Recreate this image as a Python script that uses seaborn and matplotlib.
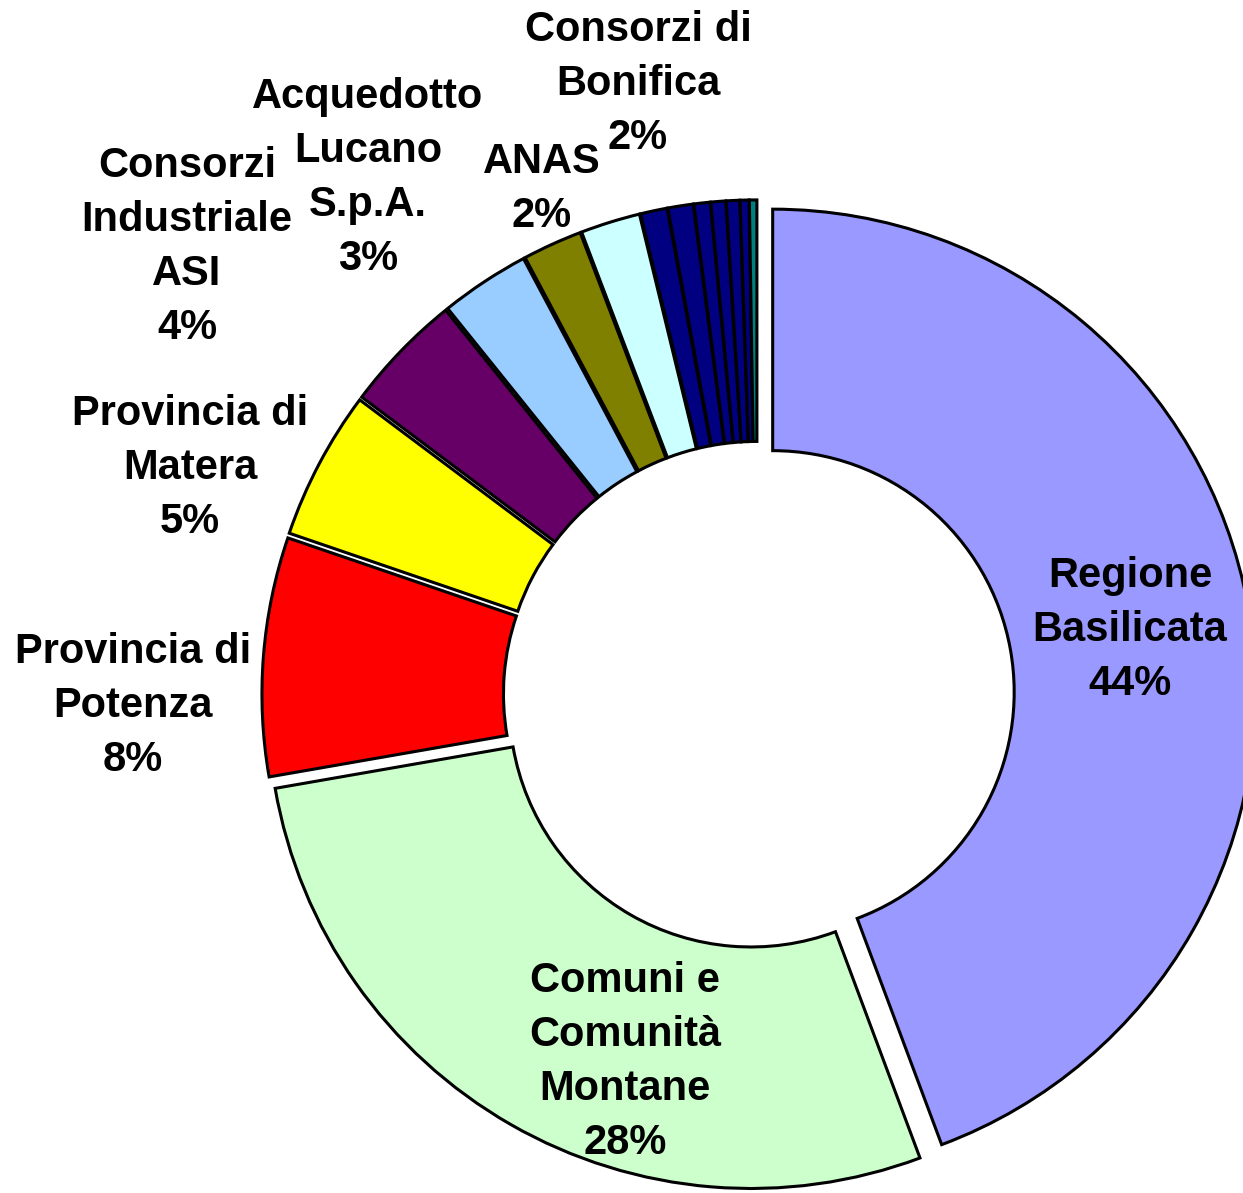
import numpy as np
import matplotlib
matplotlib.use("Agg")
import matplotlib.pyplot as plt
import seaborn as sns

# data (clockwise from 12 o'clock)
enti = ["Regione Basilicata", "Comuni e Comunità Montane", "Provincia di Potenza",
        "Provincia di Matera", "Consorzi Industriale ASI", "Acquedotto Lucano S.p.A.",
        "ANAS", "Consorzi di Bonifica",
        "Altro 1", "Altro 2", "Altro 3", "Altro 4", "Altro 5", "Altro 6", "Altro 7"]
quote = [44.4, 28.0, 8.0, 5.0, 4.0, 3.0, 2.0, 2.0,
         0.9, 0.85, 0.55, 0.5, 0.45, 0.3, 0.25]
colori = ["#9999FF", "#CCFFCC", "#FF0000", "#FFFF00", "#660066", "#99CCFF",
          "#808000", "#CCFFFF",
          "#000080", "#000080", "#000080", "#000080", "#000080", "#000080", "#008080"]
esplodi = [0.033] + [0.025] * 14

# label text (line breaks as in the chart) and where they sit (pixels)
etichette = ["Regione\nBasilicata", "Comuni e\nComunità\nMontane", "Provincia di\nPotenza",
             "Provincia di\nMatera", "Consorzi\nIndustriale\nASI", "Acquedotto\nLucano\nS.p.A.",
             "ANAS", "Consorzi di\nBonifica"]
pos_px = [(1130, 630), (625, 1062), (133, 706), (190, 468),
          (187, 247), (368, 178), (542, 189), (638, 84)]

sns.set_style("white")
plt.rcParams['font.family'] = ['Liberation Sans', 'DejaVu Sans']

W, H = 1243, 1193
cx, cy, R = 757, 695, 483

def px2data(px, py):
    return (px - cx) / R, (cy - py) / R

fig = plt.figure(figsize=(W / 100, H / 100), dpi=100)
ax = fig.add_axes([0, 0, 1, 1])
ax.pie(quote, colors=colori, explode=esplodi, startangle=90, counterclock=False,
       radius=1.0,
       wedgeprops=dict(width=0.5, edgecolor="black", linewidth=2.2))

tot = sum(quote)
for testo, (px, py), v in zip(etichette, pos_px, quote):
    x, y = px2data(px, py)
    ax.text(x, y, f"{testo}\n{v / tot * 100:.0f}%", ha="center", va="center",
            fontsize=30, fontweight="bold", linespacing=1.45, color="black")

ax.set_xlim(-cx / R, (W - cx) / R)
ax.set_ylim((cy - H) / R, cy / R)
ax.set_aspect("equal", adjustable="datalim")
ax.axis("off")

fig.savefig("out.png", dpi=100)
